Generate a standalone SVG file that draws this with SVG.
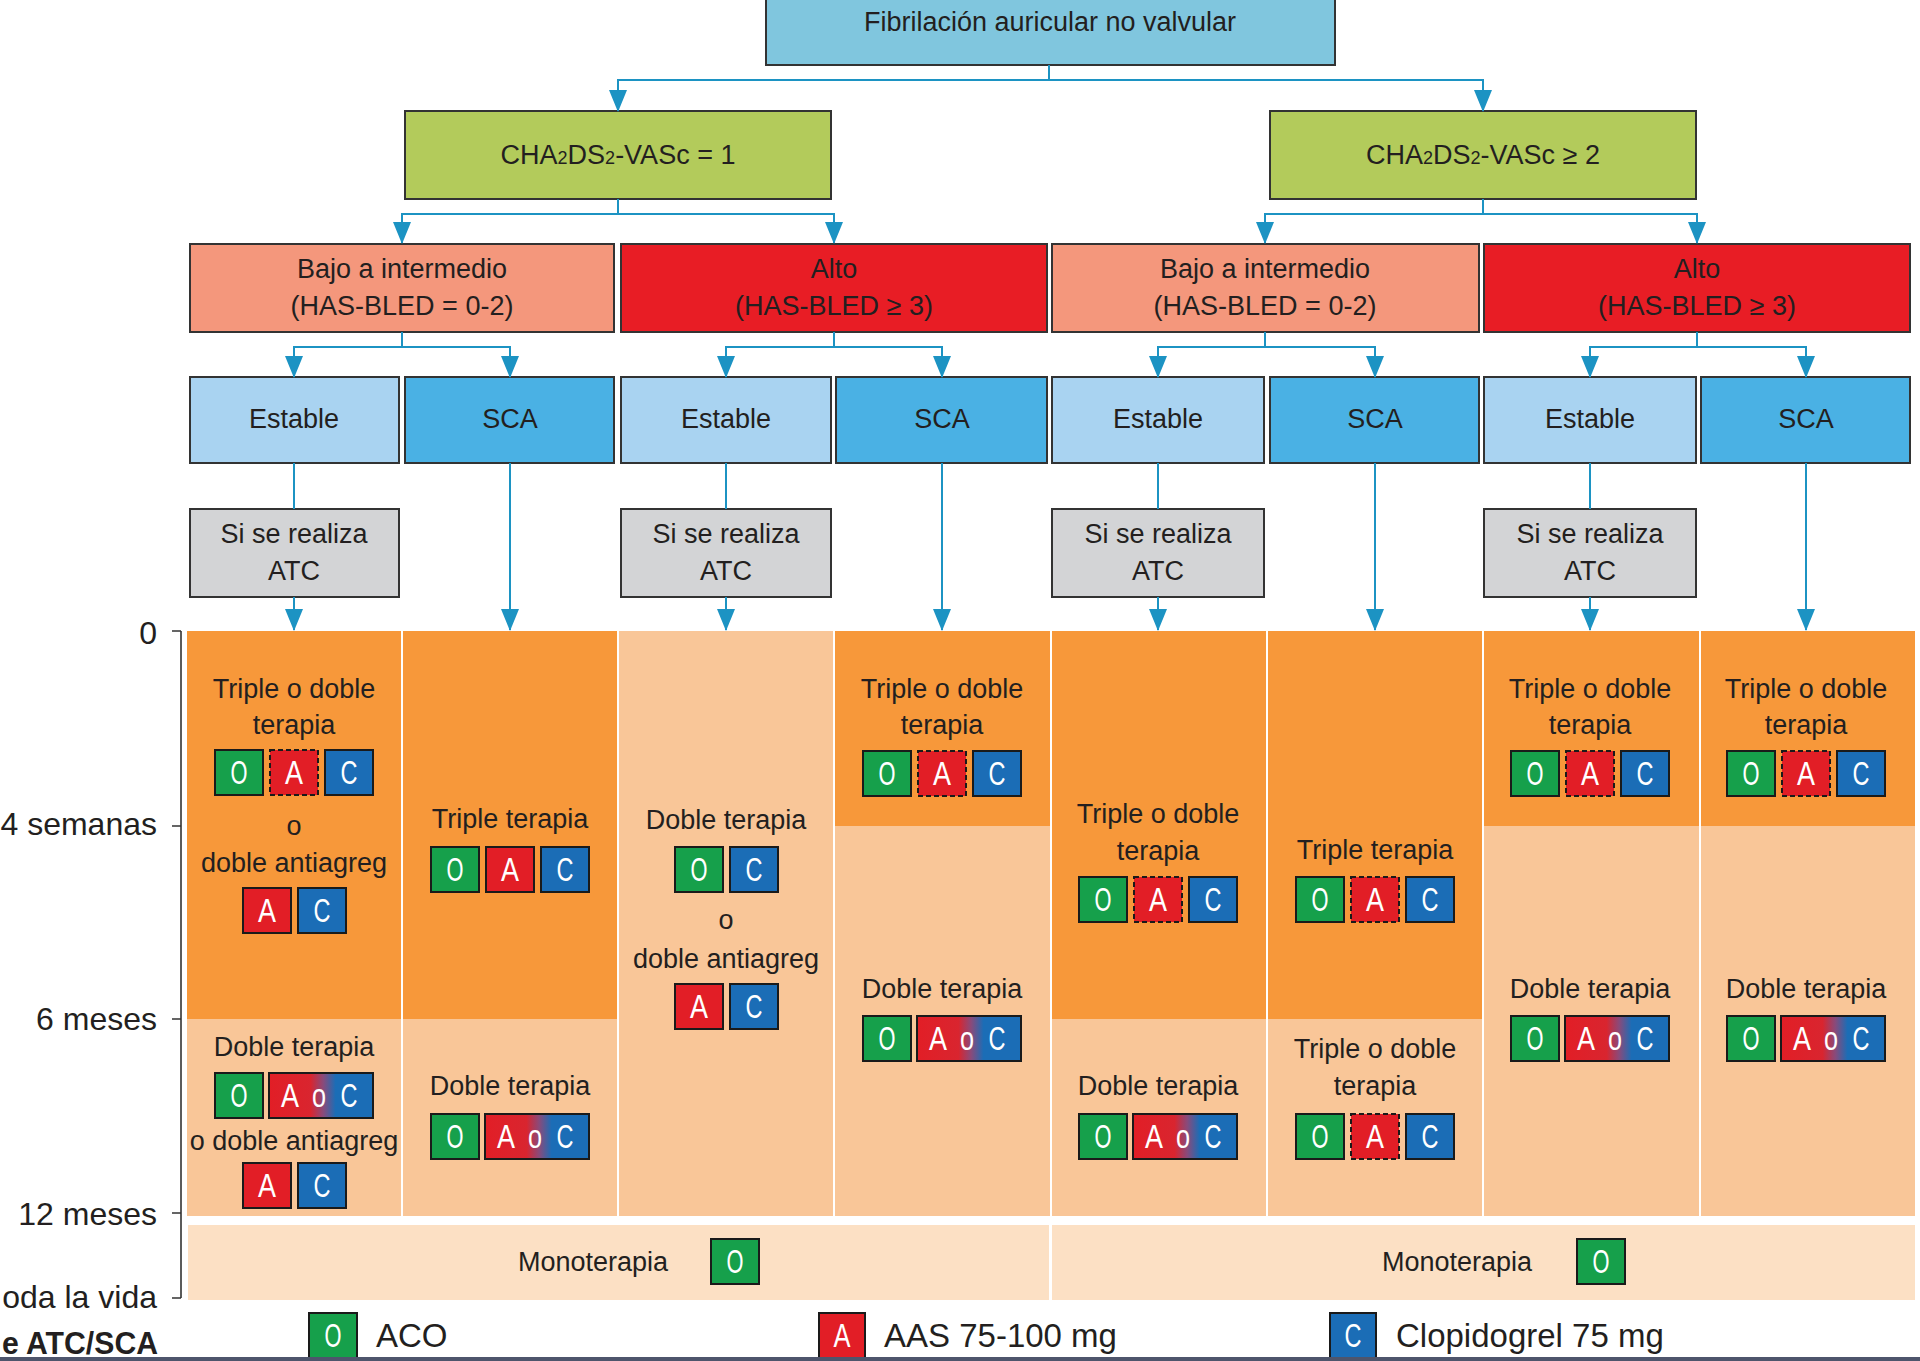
<svg xmlns="http://www.w3.org/2000/svg" width="1920" height="1361" viewBox="0 0 1920 1361">
<defs>
<style>
.box{stroke:#333;stroke-width:2}
.t{font-family:"Liberation Sans",Arial,sans-serif;font-size:27px;fill:#231f20;text-anchor:middle}
.ax{font-family:"Liberation Sans",Arial,sans-serif;font-size:32px;fill:#231f20;text-anchor:end}
.lg{font-family:"Liberation Sans",Arial,sans-serif;font-size:33px;fill:#231f20}
.tk{stroke:#1a1a1a;stroke-width:2}
.tkd{stroke:#1a1a1a;stroke-width:2;stroke-dasharray:5 3}
.g{fill:#16A04B}.r{fill:#E21E26}.b{fill:#1B6DB6}.aoc{fill:url(#gAoC)}
.tl{font-family:"Liberation Sans",Arial,sans-serif;font-size:34px;fill:#fff;text-anchor:middle}
.conn{fill:none;stroke:#1C93C3;stroke-width:2}
.dk{fill:#F7983A}.lt{fill:#F9C698}.mono{fill:#FCE0C4}
</style>
<linearGradient id="gAoC" x1="0" y1="0" x2="1" y2="0">
<stop offset="0" stop-color="#E21E26"/><stop offset="0.4" stop-color="#D9252F"/><stop offset="0.52" stop-color="#8A4A7A"/><stop offset="0.64" stop-color="#1B6DB6"/><stop offset="1" stop-color="#1B6DB6"/>
</linearGradient>
<marker id="arr" viewBox="0 0 22 18" markerWidth="22" markerHeight="18" refX="21" refY="9" orient="auto" markerUnits="userSpaceOnUse"><path d="M0,0 L22,9 L0,18 z" fill="#1C93C3"/></marker>
</defs>
<rect width="1920" height="1361" fill="#fff"/>

<g id="n-top"><rect class="box" x="766" y="-4" width="569" height="69" fill="#80C6DE"/><text class="t" x="1050" y="31">Fibrilación auricular no valvular</text></g>
<g id="n-cha1"><rect class="box" x="405" y="111" width="426" height="88" fill="#B3CB5B"/><text class="t" x="618" y="164">CHA<tspan font-size="18">2</tspan>DS<tspan font-size="18">2</tspan>-VASc = 1</text></g>
<g id="n-cha2"><rect class="box" x="1270" y="111" width="426" height="88" fill="#B3CB5B"/><text class="t" x="1483" y="164">CHA<tspan font-size="18">2</tspan>DS<tspan font-size="18">2</tspan>-VASc ≥ 2</text></g>

<g id="n-r1"><rect class="box" x="190" y="244" width="424" height="88" fill="#F4977C"/><text class="t" x="402" y="278">Bajo a intermedio</text><text class="t" x="402" y="315">(HAS-BLED = 0-2)</text></g>
<g id="n-r2"><rect class="box" x="621" y="244" width="426" height="88" fill="#E81D25"/><text class="t" x="834" y="278">Alto</text><text class="t" x="834" y="315">(HAS-BLED ≥ 3)</text></g>
<g id="n-r3"><rect class="box" x="1052" y="244" width="427" height="88" fill="#F4977C"/><text class="t" x="1265" y="278">Bajo a intermedio</text><text class="t" x="1265" y="315">(HAS-BLED = 0-2)</text></g>
<g id="n-r4"><rect class="box" x="1484" y="244" width="426" height="88" fill="#E81D25"/><text class="t" x="1697" y="278">Alto</text><text class="t" x="1697" y="315">(HAS-BLED ≥ 3)</text></g>

<g id="n-s1"><rect class="box" x="190" y="377" width="209" height="86" fill="#A9D3F1"/><text class="t" x="294" y="428">Estable</text></g>
<g id="n-s2"><rect class="box" x="405" y="377" width="209" height="86" fill="#4AB1E4"/><text class="t" x="510" y="428">SCA</text></g>
<g id="n-s3"><rect class="box" x="621" y="377" width="210" height="86" fill="#A9D3F1"/><text class="t" x="726" y="428">Estable</text></g>
<g id="n-s4"><rect class="box" x="836" y="377" width="211" height="86" fill="#4AB1E4"/><text class="t" x="942" y="428">SCA</text></g>
<g id="n-s5"><rect class="box" x="1052" y="377" width="212" height="86" fill="#A9D3F1"/><text class="t" x="1158" y="428">Estable</text></g>
<g id="n-s6"><rect class="box" x="1270" y="377" width="209" height="86" fill="#4AB1E4"/><text class="t" x="1375" y="428">SCA</text></g>
<g id="n-s7"><rect class="box" x="1484" y="377" width="212" height="86" fill="#A9D3F1"/><text class="t" x="1590" y="428">Estable</text></g>
<g id="n-s8"><rect class="box" x="1701" y="377" width="209" height="86" fill="#4AB1E4"/><text class="t" x="1806" y="428">SCA</text></g>

<g id="n-atc1"><rect class="box" x="190" y="509" width="209" height="88" fill="#D3D4D6"/><text class="t" x="294" y="543">Si se realiza</text><text class="t" x="294" y="580">ATC</text></g>
<g id="n-atc2"><rect class="box" x="621" y="509" width="210" height="88" fill="#D3D4D6"/><text class="t" x="726" y="543">Si se realiza</text><text class="t" x="726" y="580">ATC</text></g>
<g id="n-atc3"><rect class="box" x="1052" y="509" width="212" height="88" fill="#D3D4D6"/><text class="t" x="1158" y="543">Si se realiza</text><text class="t" x="1158" y="580">ATC</text></g>
<g id="n-atc4"><rect class="box" x="1484" y="509" width="212" height="88" fill="#D3D4D6"/><text class="t" x="1590" y="543">Si se realiza</text><text class="t" x="1590" y="580">ATC</text></g>

<g id="connectors">
<path class="conn" marker-end="url(#arr)" d="M1049,65 V80 H618 V111"/>
<path class="conn" marker-end="url(#arr)" d="M1049,65 V80 H1483 V111"/>
<path class="conn" marker-end="url(#arr)" d="M618,199 V214 H402 V243"/>
<path class="conn" marker-end="url(#arr)" d="M618,199 V214 H834 V243"/>
<path class="conn" marker-end="url(#arr)" d="M1483,199 V214 H1265 V243"/>
<path class="conn" marker-end="url(#arr)" d="M1483,199 V214 H1697 V243"/>
<path class="conn" marker-end="url(#arr)" d="M402,332 V347 H294 V377"/>
<path class="conn" marker-end="url(#arr)" d="M402,332 V347 H510 V377"/>
<path class="conn" marker-end="url(#arr)" d="M834,332 V347 H726 V377"/>
<path class="conn" marker-end="url(#arr)" d="M834,332 V347 H942 V377"/>
<path class="conn" marker-end="url(#arr)" d="M1265,332 V347 H1158 V377"/>
<path class="conn" marker-end="url(#arr)" d="M1265,332 V347 H1375 V377"/>
<path class="conn" marker-end="url(#arr)" d="M1697,332 V347 H1590 V377"/>
<path class="conn" marker-end="url(#arr)" d="M1697,332 V347 H1806 V377"/>
<path class="conn" d="M294,463 V509 M726,463 V509 M1158,463 V509 M1590,463 V509"/>
<path class="conn" marker-end="url(#arr)" d="M294,597 V630"/>
<path class="conn" marker-end="url(#arr)" d="M726,597 V630"/>
<path class="conn" marker-end="url(#arr)" d="M1158,597 V630"/>
<path class="conn" marker-end="url(#arr)" d="M1590,597 V630"/>
<path class="conn" marker-end="url(#arr)" d="M510,463 V630"/>
<path class="conn" marker-end="url(#arr)" d="M942,463 V630"/>
<path class="conn" marker-end="url(#arr)" d="M1375,463 V630"/>
<path class="conn" marker-end="url(#arr)" d="M1806,463 V630"/>
</g>

<g id="timeline">
<path d="M181,631 V1298 M172,631 H181 M172,826 H181 M172,1019 H181 M172,1213 H181 M172,1298 H181" fill="none" stroke="#333" stroke-width="1.6"/>
<text class="ax" x="157" y="644">0</text>
<text class="ax" x="157" y="835">4 semanas</text>
<text class="ax" x="157" y="1030">6 meses</text>
<text class="ax" x="157" y="1225">12 meses</text>
<text class="ax" x="157" y="1308">oda la vida</text>
<text class="ax" x="158" y="1354" font-weight="bold" font-size="31" textLength="156" lengthAdjust="spacingAndGlyphs">e ATC/SCA</text>
</g>

<g id="col1">
<rect class="dk" x="187" y="631" width="214" height="388"/><rect class="lt" x="187" y="1019" width="214" height="197"/>
<text class="t" x="294" y="698">Triple o doble</text><text class="t" x="294" y="734">terapia</text>
<rect class="tk g" x="215" y="750" width="48" height="45"/><text class="tl" x="239" y="784" textLength="17" lengthAdjust="spacingAndGlyphs">O</text>
<rect class="tkd r" x="270" y="750" width="48" height="45"/><text class="tl" x="294" y="784" textLength="18" lengthAdjust="spacingAndGlyphs">A</text>
<rect class="tk b" x="325" y="750" width="48" height="45"/><text class="tl" x="349" y="784" textLength="17" lengthAdjust="spacingAndGlyphs">C</text>
<text class="t" x="294" y="835">o</text><text class="t" x="294" y="872">doble antiagreg</text>
<rect class="tk r" x="243" y="888" width="48" height="45"/><text class="tl" x="267" y="922" textLength="18" lengthAdjust="spacingAndGlyphs">A</text>
<rect class="tk b" x="298" y="888" width="48" height="45"/><text class="tl" x="322" y="922" textLength="17" lengthAdjust="spacingAndGlyphs">C</text>
<text class="t" x="294" y="1056">Doble terapia</text>
<rect class="tk g" x="215" y="1073" width="48" height="45"/><text class="tl" x="239" y="1107" textLength="17" lengthAdjust="spacingAndGlyphs">O</text>
<rect class="tk aoc" x="269" y="1073" width="104" height="45"/><text class="tl" x="290" y="1107" textLength="18" lengthAdjust="spacingAndGlyphs">A</text><text class="tl" x="319" y="1107" textLength="14" lengthAdjust="spacingAndGlyphs">o</text><text class="tl" x="349" y="1107" textLength="17" lengthAdjust="spacingAndGlyphs">C</text>
<text class="t" x="294" y="1150">o doble antiagreg</text>
<rect class="tk r" x="243" y="1163" width="48" height="45"/><text class="tl" x="267" y="1197" textLength="18" lengthAdjust="spacingAndGlyphs">A</text>
<rect class="tk b" x="298" y="1163" width="48" height="45"/><text class="tl" x="322" y="1197" textLength="17" lengthAdjust="spacingAndGlyphs">C</text>
</g>

<g id="col2">
<rect class="dk" x="403" y="631" width="214" height="388"/><rect class="lt" x="403" y="1019" width="214" height="197"/>
<text class="t" x="510" y="828">Triple terapia</text>
<rect class="tk g" x="431" y="847" width="48" height="45"/><text class="tl" x="455" y="881" textLength="17" lengthAdjust="spacingAndGlyphs">O</text>
<rect class="tk r" x="486" y="847" width="48" height="45"/><text class="tl" x="510" y="881" textLength="18" lengthAdjust="spacingAndGlyphs">A</text>
<rect class="tk b" x="541" y="847" width="48" height="45"/><text class="tl" x="565" y="881" textLength="17" lengthAdjust="spacingAndGlyphs">C</text>
<text class="t" x="510" y="1095">Doble terapia</text>
<rect class="tk g" x="431" y="1114" width="48" height="45"/><text class="tl" x="455" y="1148" textLength="17" lengthAdjust="spacingAndGlyphs">O</text>
<rect class="tk aoc" x="485" y="1114" width="104" height="45"/><text class="tl" x="506" y="1148" textLength="18" lengthAdjust="spacingAndGlyphs">A</text><text class="tl" x="535" y="1148" textLength="14" lengthAdjust="spacingAndGlyphs">o</text><text class="tl" x="565" y="1148" textLength="17" lengthAdjust="spacingAndGlyphs">C</text>
</g>

<g id="col3">
<rect class="lt" x="619" y="631" width="214" height="585"/>
<text class="t" x="726" y="829">Doble terapia</text>
<rect class="tk g" x="675" y="847" width="48" height="45"/><text class="tl" x="699" y="881" textLength="17" lengthAdjust="spacingAndGlyphs">O</text>
<rect class="tk b" x="730" y="847" width="48" height="45"/><text class="tl" x="754" y="881" textLength="17" lengthAdjust="spacingAndGlyphs">C</text>
<text class="t" x="726" y="929">o</text><text class="t" x="726" y="968">doble antiagreg</text>
<rect class="tk r" x="675" y="984" width="48" height="45"/><text class="tl" x="699" y="1018" textLength="18" lengthAdjust="spacingAndGlyphs">A</text>
<rect class="tk b" x="730" y="984" width="48" height="45"/><text class="tl" x="754" y="1018" textLength="17" lengthAdjust="spacingAndGlyphs">C</text>
</g>

<g id="col4">
<rect class="dk" x="835" y="631" width="215" height="195"/><rect class="lt" x="835" y="826" width="215" height="390"/>
<text class="t" x="942" y="698">Triple o doble</text><text class="t" x="942" y="734">terapia</text>
<rect class="tk g" x="863" y="751" width="48" height="45"/><text class="tl" x="887" y="785" textLength="17" lengthAdjust="spacingAndGlyphs">O</text>
<rect class="tkd r" x="918" y="751" width="48" height="45"/><text class="tl" x="942" y="785" textLength="18" lengthAdjust="spacingAndGlyphs">A</text>
<rect class="tk b" x="973" y="751" width="48" height="45"/><text class="tl" x="997" y="785" textLength="17" lengthAdjust="spacingAndGlyphs">C</text>
<text class="t" x="942" y="998">Doble terapia</text>
<rect class="tk g" x="863" y="1016" width="48" height="45"/><text class="tl" x="887" y="1050" textLength="17" lengthAdjust="spacingAndGlyphs">O</text>
<rect class="tk aoc" x="917" y="1016" width="104" height="45"/><text class="tl" x="938" y="1050" textLength="18" lengthAdjust="spacingAndGlyphs">A</text><text class="tl" x="967" y="1050" textLength="14" lengthAdjust="spacingAndGlyphs">o</text><text class="tl" x="997" y="1050" textLength="17" lengthAdjust="spacingAndGlyphs">C</text>
</g>

<g id="col5">
<rect class="dk" x="1052" y="631" width="214" height="388"/><rect class="lt" x="1052" y="1019" width="214" height="197"/>
<text class="t" x="1158" y="823">Triple o doble</text><text class="t" x="1158" y="860">terapia</text>
<rect class="tk g" x="1079" y="877" width="48" height="45"/><text class="tl" x="1103" y="911" textLength="17" lengthAdjust="spacingAndGlyphs">O</text>
<rect class="tkd r" x="1134" y="877" width="48" height="45"/><text class="tl" x="1158" y="911" textLength="18" lengthAdjust="spacingAndGlyphs">A</text>
<rect class="tk b" x="1189" y="877" width="48" height="45"/><text class="tl" x="1213" y="911" textLength="17" lengthAdjust="spacingAndGlyphs">C</text>
<text class="t" x="1158" y="1095">Doble terapia</text>
<rect class="tk g" x="1079" y="1114" width="48" height="45"/><text class="tl" x="1103" y="1148" textLength="17" lengthAdjust="spacingAndGlyphs">O</text>
<rect class="tk aoc" x="1133" y="1114" width="104" height="45"/><text class="tl" x="1154" y="1148" textLength="18" lengthAdjust="spacingAndGlyphs">A</text><text class="tl" x="1183" y="1148" textLength="14" lengthAdjust="spacingAndGlyphs">o</text><text class="tl" x="1213" y="1148" textLength="17" lengthAdjust="spacingAndGlyphs">C</text>
</g>

<g id="col6">
<rect class="dk" x="1268" y="631" width="214" height="388"/><rect class="lt" x="1268" y="1019" width="214" height="197"/>
<text class="t" x="1375" y="859">Triple terapia</text>
<rect class="tk g" x="1296" y="877" width="48" height="45"/><text class="tl" x="1320" y="911" textLength="17" lengthAdjust="spacingAndGlyphs">O</text>
<rect class="tkd r" x="1351" y="877" width="48" height="45"/><text class="tl" x="1375" y="911" textLength="18" lengthAdjust="spacingAndGlyphs">A</text>
<rect class="tk b" x="1406" y="877" width="48" height="45"/><text class="tl" x="1430" y="911" textLength="17" lengthAdjust="spacingAndGlyphs">C</text>
<text class="t" x="1375" y="1058">Triple o doble</text><text class="t" x="1375" y="1095">terapia</text>
<rect class="tk g" x="1296" y="1114" width="48" height="45"/><text class="tl" x="1320" y="1148" textLength="17" lengthAdjust="spacingAndGlyphs">O</text>
<rect class="tkd r" x="1351" y="1114" width="48" height="45"/><text class="tl" x="1375" y="1148" textLength="18" lengthAdjust="spacingAndGlyphs">A</text>
<rect class="tk b" x="1406" y="1114" width="48" height="45"/><text class="tl" x="1430" y="1148" textLength="17" lengthAdjust="spacingAndGlyphs">C</text>
</g>

<g id="col7">
<rect class="dk" x="1484" y="631" width="215" height="195"/><rect class="lt" x="1484" y="826" width="215" height="390"/>
<text class="t" x="1590" y="698">Triple o doble</text><text class="t" x="1590" y="734">terapia</text>
<rect class="tk g" x="1511" y="751" width="48" height="45"/><text class="tl" x="1535" y="785" textLength="17" lengthAdjust="spacingAndGlyphs">O</text>
<rect class="tkd r" x="1566" y="751" width="48" height="45"/><text class="tl" x="1590" y="785" textLength="18" lengthAdjust="spacingAndGlyphs">A</text>
<rect class="tk b" x="1621" y="751" width="48" height="45"/><text class="tl" x="1645" y="785" textLength="17" lengthAdjust="spacingAndGlyphs">C</text>
<text class="t" x="1590" y="998">Doble terapia</text>
<rect class="tk g" x="1511" y="1016" width="48" height="45"/><text class="tl" x="1535" y="1050" textLength="17" lengthAdjust="spacingAndGlyphs">O</text>
<rect class="tk aoc" x="1565" y="1016" width="104" height="45"/><text class="tl" x="1586" y="1050" textLength="18" lengthAdjust="spacingAndGlyphs">A</text><text class="tl" x="1615" y="1050" textLength="14" lengthAdjust="spacingAndGlyphs">o</text><text class="tl" x="1645" y="1050" textLength="17" lengthAdjust="spacingAndGlyphs">C</text>
</g>

<g id="col8">
<rect class="dk" x="1701" y="631" width="214" height="195"/><rect class="lt" x="1701" y="826" width="214" height="390"/>
<text class="t" x="1806" y="698">Triple o doble</text><text class="t" x="1806" y="734">terapia</text>
<rect class="tk g" x="1727" y="751" width="48" height="45"/><text class="tl" x="1751" y="785" textLength="17" lengthAdjust="spacingAndGlyphs">O</text>
<rect class="tkd r" x="1782" y="751" width="48" height="45"/><text class="tl" x="1806" y="785" textLength="18" lengthAdjust="spacingAndGlyphs">A</text>
<rect class="tk b" x="1837" y="751" width="48" height="45"/><text class="tl" x="1861" y="785" textLength="17" lengthAdjust="spacingAndGlyphs">C</text>
<text class="t" x="1806" y="998">Doble terapia</text>
<rect class="tk g" x="1727" y="1016" width="48" height="45"/><text class="tl" x="1751" y="1050" textLength="17" lengthAdjust="spacingAndGlyphs">O</text>
<rect class="tk aoc" x="1781" y="1016" width="104" height="45"/><text class="tl" x="1802" y="1050" textLength="18" lengthAdjust="spacingAndGlyphs">A</text><text class="tl" x="1831" y="1050" textLength="14" lengthAdjust="spacingAndGlyphs">o</text><text class="tl" x="1861" y="1050" textLength="17" lengthAdjust="spacingAndGlyphs">C</text>
</g>

<g id="mono1">
<rect class="mono" x="188" y="1225" width="861" height="75"/>
<text class="t" x="593" y="1271" font-size="28">Monoterapia</text>
<rect class="tk g" x="711" y="1239" width="48" height="45"/><text class="tl" x="735" y="1273" textLength="17" lengthAdjust="spacingAndGlyphs">O</text>
</g>
<g id="mono2">
<rect class="mono" x="1052" y="1225" width="863" height="75"/>
<text class="t" x="1457" y="1271" font-size="28">Monoterapia</text>
<rect class="tk g" x="1577" y="1239" width="48" height="45"/><text class="tl" x="1601" y="1273" textLength="17" lengthAdjust="spacingAndGlyphs">O</text>
</g>

<g id="legend">
<rect class="tk g" x="309" y="1313" width="48" height="50"/><text class="tl" x="333" y="1347" textLength="17" lengthAdjust="spacingAndGlyphs">O</text>
<text class="lg" x="376" y="1347">ACO</text>
<rect class="tk r" x="819" y="1313" width="46" height="50"/><text class="tl" x="842" y="1347" textLength="17" lengthAdjust="spacingAndGlyphs">A</text>
<text class="lg" x="884" y="1347">AAS 75-100 mg</text>
<rect class="tk b" x="1330" y="1313" width="46" height="50"/><text class="tl" x="1353" y="1347" textLength="17" lengthAdjust="spacingAndGlyphs">C</text>
<text class="lg" x="1396" y="1347">Clopidogrel 75 mg</text>
</g>
<rect x="0" y="1357" width="1920" height="4" fill="#4E556C"/>
</svg>
